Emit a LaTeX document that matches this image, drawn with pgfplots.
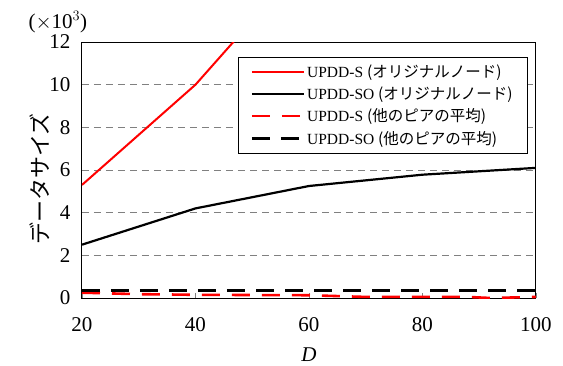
\documentclass[border=0pt]{standalone}
\usepackage{pgfplots}
\pgfplotsset{compat=1.18}
\usepackage{fontspec}
\setmainfont{Liberation Serif}
\newfontfamily\jp{Noto Sans CJK JP}
\begin{document}
\begin{tikzpicture}
\begin{axis}[
  at={(0pt,0pt)}, anchor=south west,
  scale only axis, width=454pt, height=256pt,
  xmin=20, xmax=100, ymin=0, ymax=12,
  xtick={20,40,60,80,100}, ytick={0,2,4,6,8,10,12},
  tick align=inside, major tick length=5pt,
  ytick style={draw=none},
  xtick pos=bottom,
  ymajorgrids, grid style={gray, line width=0.9pt, dash pattern=on 7pt off 5pt},
  axis line style={line width=1pt},
  tick label style={font=\fontsize{21}{21}\selectfont},
  /pgf/number format/assume math mode=true,
  xticklabel style={yshift=-16pt},
  yticklabel style={xshift=-8pt},
  xlabel={\textit{D}}, xlabel style={font=\fontsize{21}{21}\selectfont, at={(0.5,0)}, anchor=north, yshift=-46pt},
  ylabel={\jp データサイズ}, ylabel style={font=\fontsize{22}{22}\selectfont, at={(0,0.5)}, anchor=south, yshift=29pt, xshift=-9pt},
  clip=true,
  legend style={at={(0.98,0.94)}, anchor=north east, font=\fontsize{15.5}{16}\selectfont,
    draw=black, row sep=4pt, inner xsep=12pt, inner ysep=5pt, cells={anchor=west}},
  legend image code/.code={\draw[#1] (0pt,0pt) -- (52pt,0pt);},
]
\addplot[red, line width=2pt] coordinates {(20,5.3) (40,10.0) (60,16.0)};
\addlegendentry{UPDD-S {\jp (オリジナルノード)}}
\addplot[black, line width=2.2pt] coordinates {(20,2.5) (40,4.2) (60,5.25) (80,5.78) (100,6.1)};
\addlegendentry{UPDD-SO {\jp (オリジナルノード)}}
\addplot[red, line width=2.6pt, dash pattern=on 18pt off 12pt] coordinates {(20,0.25) (30,0.18) (40,0.15) (60,0.13) (70,0.05) (80,0.05) (88,0.05) (92,0.0) (100,0.05)};
\addlegendentry{UPDD-S {\jp (他のピアの平均)}}
\addplot[black, line width=2.6pt, dash pattern=on 18pt off 11pt] coordinates {(20,0.35) (40,0.35) (60,0.35) (80,0.35) (100,0.35)};
\addlegendentry{UPDD-SO {\jp (他のピアの平均)}}
\end{axis}
\node[anchor=base west, font=\fontsize{21}{21}\selectfont] at (-57pt,270pt) {($\times$10$^{3}$)};
\pgfresetboundingbox
\path[use as bounding box] (-82pt,-67pt) rectangle (481pt,298pt);
\end{tikzpicture}
\end{document}
